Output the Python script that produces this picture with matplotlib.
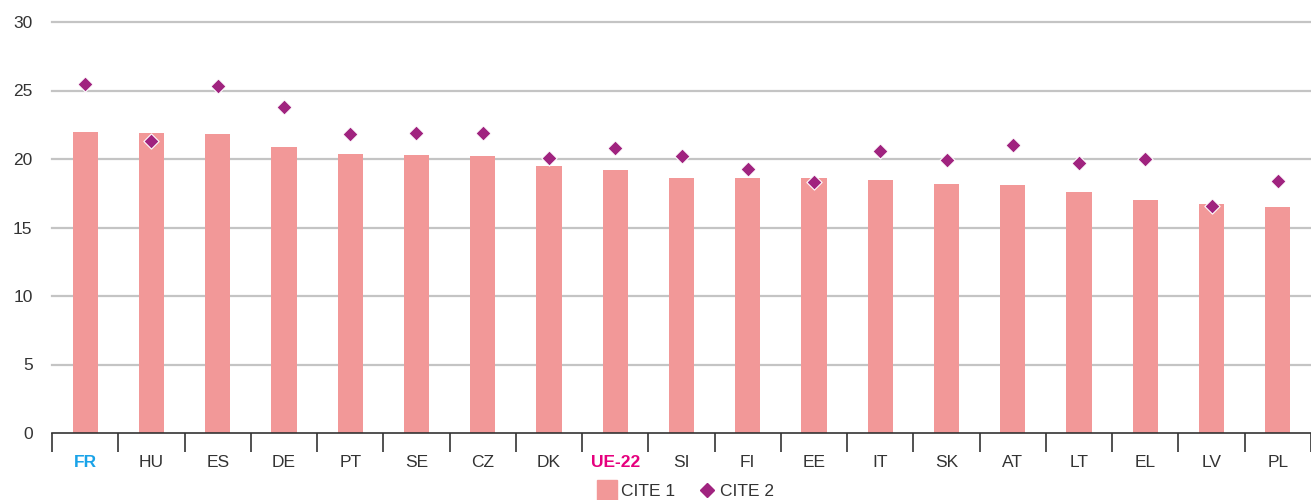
import numpy as np
import matplotlib.pyplot as plt
from matplotlib.ticker import FixedLocator

plt.rcParams['font.family'] = ['Liberation Sans', 'DejaVu Sans']

countries = ['FR', 'HU', 'ES', 'DE', 'PT', 'SE', 'CZ', 'DK', 'UE-22', 'SI',
             'FI', 'EE', 'IT', 'SK', 'AT', 'LT', 'EL', 'LV', 'PL']
cite1 = [22.0, 21.9, 21.8, 20.9, 20.4, 20.3, 20.2, 19.5, 19.2, 18.6,
         18.6, 18.6, 18.5, 18.2, 18.1, 17.6, 17.0, 16.7, 16.5]
cite2 = [25.5, 21.3, 25.3, 23.8, 21.8, 21.9, 21.9, 20.1, 20.8, 20.2,
         19.3, 18.3, 20.6, 19.9, 21.0, 19.7, 20.0, 16.6, 18.4]
yticks = [0, 5, 10, 15, 20, 25, 30]

bar_color = '#F29898'
dot_color = '#A0237F'
label_colors = {'FR': '#1AA3E8', 'UE-22': '#E6007E'}

fig = plt.figure(figsize=(13.11, 5), dpi=100)
ax = fig.add_axes([0.0397, 0.134, 0.9603, 0.822])

x = np.arange(len(countries))
ax.bar(x, cite1, width=0.38, color=bar_color, zorder=2)
ax.scatter(x, cite2, marker='D', s=60, color=dot_color, edgecolors='white',
           linewidths=0.8, zorder=3)

ax.set_xlim(-0.5, len(countries) - 0.5)
ax.set_ylim(0, 30)
ax.set_yticks(yticks)
for v in yticks[1:]:
    ax.axhline(v, color='#C4C4C4', linewidth=1.6, zorder=1, clip_on=False)

for side in ['top', 'right', 'left']:
    ax.spines[side].set_visible(False)
ax.spines['bottom'].set_color('#333333')
ax.spines['bottom'].set_linewidth(1.2)

ax.tick_params(axis='y', length=0, pad=14, labelsize=12.5, labelcolor='#333333')
ax.set_xticks(x)
ax.set_xticklabels(countries)
ax.tick_params(axis='x', which='major', length=0, pad=16, labelsize=12.5,
               labelcolor='#333333')
ax.xaxis.set_minor_locator(FixedLocator(np.arange(-0.5, len(countries), 1.0)))
ax.tick_params(axis='x', which='minor', length=14, width=1.2, color='#333333')

for lbl in ax.get_xticklabels():
    t = lbl.get_text()
    if t in label_colors:
        lbl.set_color(label_colors[t])
        lbl.set_fontweight('bold')

handles = [
    plt.Line2D([], [], marker='s', linestyle='none', markersize=14,
               color=bar_color),
    plt.Line2D([], [], marker='D', linestyle='none', markersize=7,
               color=dot_color),
]
fig.legend(handles, ['CITE 1', 'CITE 2'], loc='center',
           bbox_to_anchor=(0.523, 0.018), ncol=2, frameon=False,
           fontsize=12.5, handletextpad=0.2, columnspacing=1.2,
           handlelength=1.2, labelcolor='#333333')

fig.savefig('out.png', dpi=100, facecolor='white')
